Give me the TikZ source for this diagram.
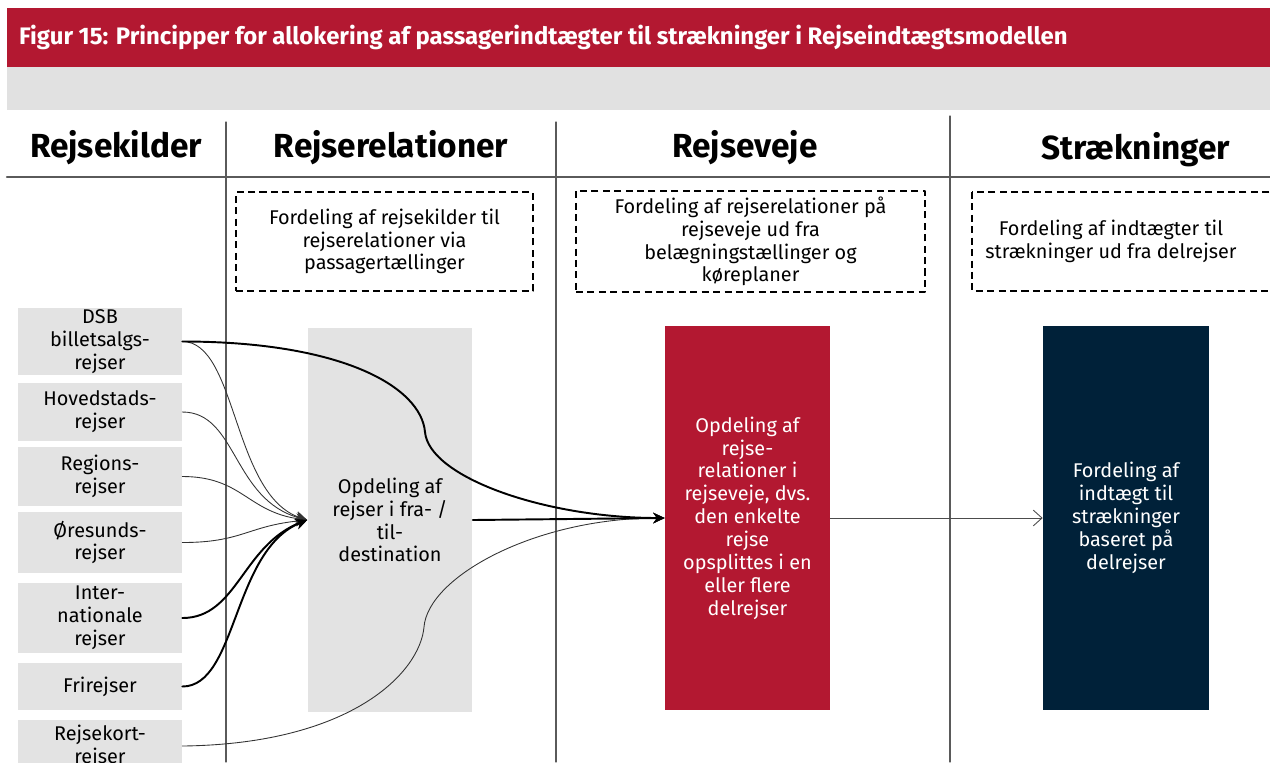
\documentclass[tikz,border=0pt]{standalone}
\usepackage{fontspec}
\setmainfont{Fira Sans}
\usetikzlibrary{arrows.meta}
\definecolor{dsbred}{RGB}{179,24,49}
\definecolor{dsbnavy}{RGB}{0,33,57}
\definecolor{bargray}{RGB}{225,225,225}
\definecolor{boxgray}{RGB}{227,227,227}
\definecolor{linegray}{RGB}{90,90,90}
\begin{document}
\begin{tikzpicture}[x=0.02cm,y=-0.02cm,>={Stealth[length=6.5pt,width=6pt]},line join=round,line cap=round,
		font=\fontsize{11.3pt}{13pt}\selectfont,
		kilde/.style={fill=boxgray,minimum width=3.28cm,align=center,inner sep=0pt},
		trin/.style={minimum width=3.3cm,minimum height=7.68cm,align=center,inner sep=0pt},
		note/.style={draw,dashed,line width=0.9pt,dash pattern=on 4pt off 2.5pt,line cap=butt},
		hoved/.style={font=\fontsize{19pt}{21pt}\selectfont\bfseries},
		tynd/.style={line width=0.5pt,black!80},
		tyk/.style={line width=1.1pt}]
			\useasboundingbox (0,0) rectangle (1270,762);
			\clip (0,0) rectangle (1270,762);
			% title and grey band
			\fill[dsbred] (7,8) rectangle (1270,67);
			\fill[bargray] (7,67) rectangle (1270,110);
			\node[anchor=west,text=white,font=\fontsize{13.6pt}{15pt}\selectfont\bfseries] (titel) at (13,37.5) {Figur 15: Principper for allokering af passagerindtægter til strækninger i Rejseindtægtsmodellen};
			% columns
			\draw[linegray,line width=1.2pt] (7,177)--(1270,177);
			\foreach \x/\t in {226/122,556/122,950/116}{\draw[linegray,line width=0.6pt] (\x,\t)--(\x,762);}
			\node[hoved] (h1) at (116,148) {Rejsekilder};
			\node[hoved] (h2) at (391,148) {Rejserelationer};
			\node[hoved] (h3) at (745,148) {Rejseveje};
			\node[hoved] (h4) at (1136,150) {Strækninger};
			% dashed notes
			\node[note,minimum width=5.94cm,minimum height=1.98cm,align=center] (n1) at (384.5,241.5) {Fordeling af rejsekilder til\\rejserelationer via\\passagertællinger};
			\node[note,minimum width=6.98cm,minimum height=1.98cm,align=center] (n2) at (750.5,241.5) {Fordeling af rejserelationer på\\rejseveje ud fra\\belægningstællinger og\\køreplaner};
			\draw[note] (972,192) rectangle (1290,291);
			\node[align=center] (n3) at (1111,241) {Fordeling af indtægter til\\strækninger ud fra delrejser};
			% sources
			\foreach \n/\y/\h/\t in {dsb/341.5/67/{DSB\\billetsalgs-\\rejser},hoved/412/58/{Hovedstads-\\rejser},
				region/476.5/59/{Regions-\\rejser},oresund/542.5/61/{Øresunds-\\rejser},inter/618/70/{Inter-\\nationale\\rejser},
				fri/686.5/47/{Frirejser},kort/746/52/{Rejsekort-\\rejser}}{
				\node[kilde,minimum height=\h*0.02cm] (\n) at (100,\y) {\t};}
			% steps
			\node[trin,fill=boxgray] (opd) at (390,520) {Opdeling af\\rejser i fra- /\\til-\\destination};
			\node[trin,fill=dsbred,text=white] (rejsevej) at (747.5,518) {Opdeling af\\rejse-\\relationer i\\rejseveje, dvs.\\den enkelte\\rejse\\opsplittes i en\\eller flere\\delrejser};
			\node[trin,fill=dsbnavy,text=white,minimum width=3.32cm] (straek) at (1126,518) {Fordeling af\\indtægt til\\strækninger\\baseret på\\delrejser};
			% connectors
			\coordinate (knaek1) at (425,432);
			\coordinate (knaek2) at (424,627);
			\draw[tynd,->] (dsb.east) .. controls +(55,0) and +(-75,-25) .. (opd.west);
			\draw[tynd,->] (hoved.east) .. controls +(55,0) and +(-75,-20) .. (opd.west);
			\draw[tynd,->] (region.east) .. controls +(60,0) and +(-60,-8) .. (opd.west);
			\draw[tynd,->] (oresund.east) .. controls +(60,0) and +(-60,6) .. (opd.west);
			\draw[tyk,->] (inter.east) .. controls +(55,0) and +(-65,25) .. (opd.west);
			\draw[tyk,->] (fri.east) .. controls +(55,0) and +(-75,30) .. (opd.west);
			\draw[tyk,->] (dsb.east) .. controls +(160,0) and +(-4,-45) .. (knaek1) .. controls +(4,45) and +(-120,0) .. (rejsevej.west);
			\draw[tynd,->] (kort.east) .. controls +(170,-2) and +(-4,45) .. (knaek2) .. controls +(4,-50) and +(-130,0) .. (rejsevej.west);
			\draw[tyk,->] (opd.east)--(rejsevej.west);
			\draw[tynd,black!70,-{Straight Barb[length=5pt,width=9pt]}] (rejsevej.east)--(straek.west);
		\end{tikzpicture}
\end{document}
